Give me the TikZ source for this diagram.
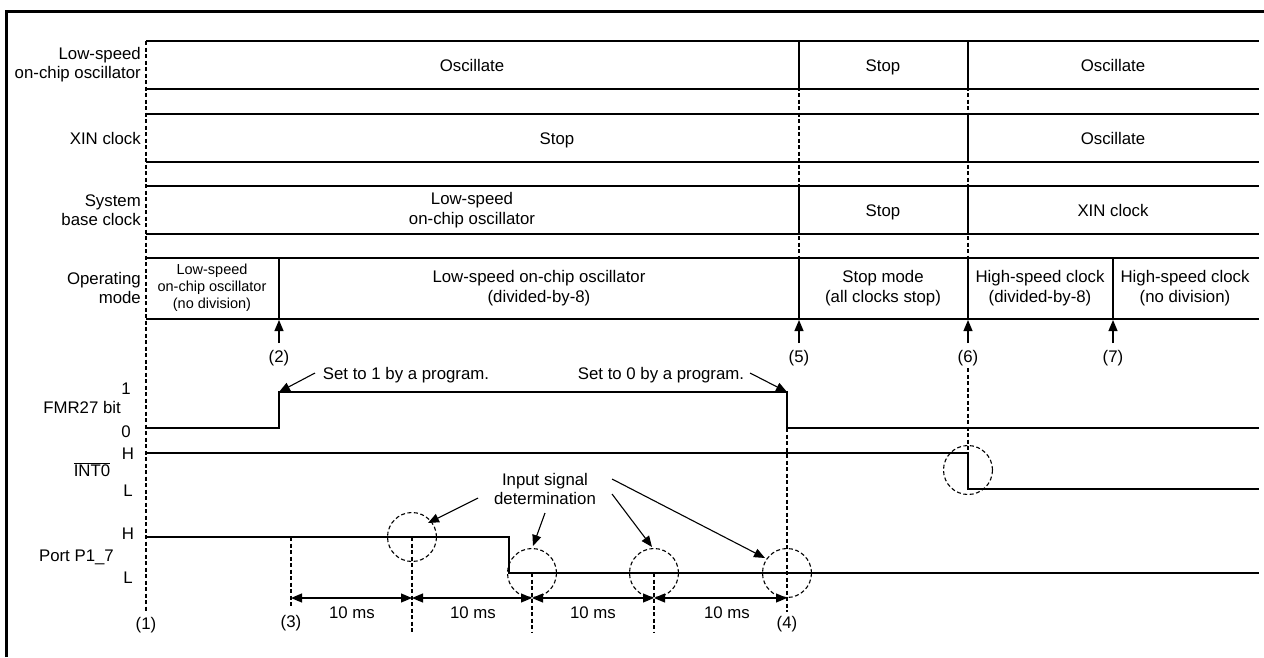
\documentclass[tikz,border=0pt]{standalone}
\usepackage{fontspec}
\setmainfont{Liberation Sans}
\usetikzlibrary{arrows.meta}
\begin{document}
\begin{tikzpicture}[x=1pt,y=-1pt,
  rowline/.style={line width=1.5pt},
  sig/.style={line width=1.5pt},
  guide/.style={line width=1.1pt, dash pattern=on 4pt off 2.5pt},
  lbl/.style={font=\fontsize{16.8}{19.3}\selectfont, align=center, inner sep=0pt},
  one/.style={text height=12.2pt, text depth=0pt},
  rlbl/.style={font=\fontsize{16.8}{19.3}\selectfont, align=right, inner sep=0pt},
  small/.style={font=\fontsize{14.5}{17}\selectfont, align=center, inner sep=0pt},
  tip/.style={-{Triangle[length=11pt,width=9pt]}, line width=1.1pt},
  dim/.style={{Triangle[length=11pt,width=9pt]}-{Triangle[length=11pt,width=9pt]}, line width=1.1pt},
  ring/.style={circle, draw, line width=1.1pt, dash pattern=on 4pt off 2.5pt, minimum size=49pt, inner sep=0pt}
]
\useasboundingbox (0,0) rectangle (1264,657);
% frame
\draw[line width=3pt] (6.5,657) -- (6.5,11) -- (1264,11);

% row lines
\foreach \yy in {41,89,114,162,186,234,258,319}
  \draw[rowline] (146,\yy) -- (1259,\yy);

% dashed guides
\draw[guide] (146,41) -- (146,612);
\draw[guide] (799,41) -- (799,319);
\draw[guide] (968,41) -- (968,319);

% solid cell dividers
\draw[rowline] (799,41) -- (799,89);
\draw[rowline] (968,41) -- (968,89);
\draw[rowline] (968,114) -- (968,162);
\draw[rowline] (799,186) -- (799,234);
\draw[rowline] (968,186) -- (968,234);
\foreach \xx in {279,799,968,1113}
  \draw[rowline] (\xx,258) -- (\xx,319);

% row labels
\node[rlbl, anchor=east] (l1) at (141,65) {Low-speed\\on-chip oscillator};
\node[rlbl, anchor=east, one] (l2) at (141,138) {XIN clock};
\node[rlbl, anchor=east] (l3) at (141,210) {System\\base clock};
\node[rlbl, anchor=east] (l4) at (141,288) {Operating\\mode};

% cell texts
\node[lbl, one] (c11) at (472,65) {Oscillate};
\node[lbl, one] (c12) at (883,65) {Stop};
\node[lbl, one] (c13) at (1113,65) {Oscillate};
\node[lbl, one] (c21) at (557,138) {Stop};
\node[lbl, one] (c22) at (1113,138) {Oscillate};
\node[lbl] (c31) at (472,210) {Low-speed\\on-chip oscillator};
\node[lbl, one] (c32) at (883,210) {Stop};
\node[lbl, one] (c33) at (1113,210) {XIN clock};
\node[small] (c41) at (212,288) {Low-speed\\on-chip oscillator\\(no division)};
\node[lbl] (c42) at (539,288) {Low-speed on-chip oscillator\\(divided-by-8)};
\node[lbl] (c43) at (883,288) {Stop mode\\(all clocks stop)};
\node[lbl] (c44) at (1040,288) {High-speed clock\\(divided-by-8)};
\node[lbl] (c45) at (1185,288) {High-speed clock\\(no division)};

% event arrows
\foreach \xx/\nm in {279/2,799/5,968/6,1113/7}{
  \coordinate (b\nm) at (\xx,343);
  \coordinate (t\nm) at (\xx,320);
  \draw[tip] (b\nm) -- (t\nm);
  \node[lbl] (e\nm) at (\xx,358) {(\nm)};
}

% signal labels
\node[lbl, one] (one) at (126,388) {1};
\node[lbl, anchor=east, one] (fmr) at (121,407) {FMR27 bit};
\node[lbl, one] (zero) at (126,431) {0};
\node[lbl, one] (ih) at (128,453) {H};
\node[lbl] (int0) at (92,470) {$\overline{\mbox{INT0}}$};
\node[lbl, one] (il) at (128,490) {L};
\node[lbl, one] (ph) at (128,533) {H};
\node[lbl, anchor=east, one] (port) at (114,555) {Port P1\_7};
\node[lbl, one] (pl) at (128,577) {L};

% signals
\draw[sig] (146,428) -- (279,428) -- (279,392) -- (787,392) -- (787,428) -- (1259,428);
\draw[sig] (146,453) -- (968,453) -- (968,489) -- (1259,489);
\draw[sig] (146,537) -- (509,537) -- (509,573) -- (1259,573);

% more guides
\draw[guide] (968,368) -- (968,453);
\draw[guide] (787,428) -- (787,612);
\draw[guide] (291,537) -- (291,607);
\draw[guide] (412,537) -- (412,632);
\draw[guide] (532,573) -- (532,632);
\draw[guide] (654,573) -- (654,632);

% rings
\node[ring] (r1) at (412,537) {};
\node[ring] (r2) at (532,573) {};
\node[ring] (r3) at (654,573) {};
\node[ring] (r4) at (787,573) {};
\node[ring] (r5) at (968,470) {};

% labels (1) (3) (4)
\node[lbl] (p1) at (146,625) {(1)};
\node[lbl] (p3) at (291,623) {(3)};
\node[lbl] (p4) at (787,624) {(4)};

% dimension arrows
\coordinate (d0) at (291,598);
\coordinate (d1) at (412,598);
\coordinate (d2) at (532,598);
\coordinate (d3) at (654,598);
\coordinate (d4) at (787,598);
\draw[dim] (d0) -- (d1);
\draw[dim] (d1) -- (d2);
\draw[dim] (d2) -- (d3);
\draw[dim] (d3) -- (d4);
\node[lbl, one] (m1) at (352,612) {10 ms};
\node[lbl, one] (m2) at (473,612) {10 ms};
\node[lbl, one] (m3) at (593,612) {10 ms};
\node[lbl, one] (m4) at (727,612) {10 ms};

% annotations
\node[lbl, one] (s1) at (406,373) {Set to 1 by a program.};
\node[lbl, one] (s0) at (661,373) {Set to 0 by a program.};
\coordinate (s1t) at (279,392);
\coordinate (s0t) at (787,392);
\draw[tip] (315,373) -- (s1t);
\draw[tip] (750,373) -- (s0t);

\node[lbl] (isd) at (545,489) {Input signal\\determination};
\coordinate (a1) at (428,523);
\coordinate (a2) at (533,546);
\coordinate (a3) at (652,547);
\coordinate (a4) at (765,558);
\draw[tip] (478,498) -- (a1);
\draw[tip] (545,513) -- (a2);
\draw[tip] (612,494) -- (a3);
\draw[tip] (612,479) -- (a4);
\end{tikzpicture}
\end{document}
